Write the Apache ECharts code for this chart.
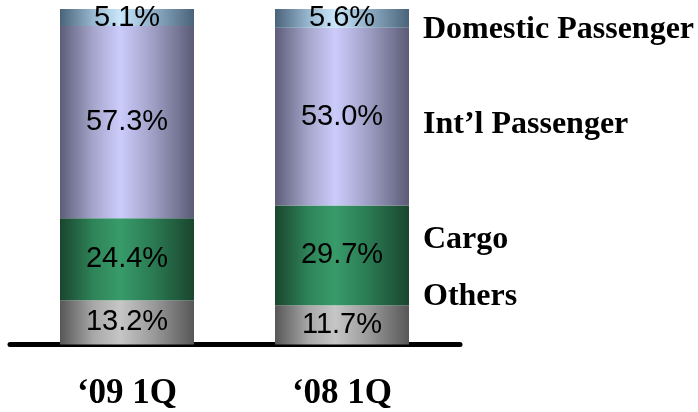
<!DOCTYPE html>
<html>
<head>
<meta charset="utf-8">
<script src="https://cdn.jsdelivr.net/npm/echarts@6/dist/echarts.min.js"></script>
<style>html,body{margin:0;padding:0;background:#fff;}#c{width:698px;height:412px;}</style>
</head>
<body>
<div id="c"></div>
<script>
var categories = ['\u201809 1Q', '\u201808 1Q'];
var seriesNames = ['Others', 'Cargo', 'Int\u2019l Passenger', 'Domestic Passenger'];
var others = [13.2, 11.7];
var cargo = [24.4, 29.7];
var intl = [57.3, 53.0];
var domestic = [5.1, 5.6];
var values = [others, cargo, intl, domestic];

var gradients = [
  ['#575757', '#a8a8a8', '#c6c6c6', '#9a9a9a', '#575757'],
  ['#1a452e', '#2e8458', '#389b6a', '#2a7a52', '#1a452e'],
  ['#5d5d79', '#a6a6cc', '#ccccfc', '#9e9ec4', '#5b5b76'],
  ['#4a6379', '#98b8d0', '#c9e6fa', '#8eaec6', '#4a6379']
];
function grad(c) {
  return new echarts.graphic.LinearGradient(0, 0, 1, 0, [
    {offset: 0, color: c[0]}, {offset: 0.25, color: c[1]}, {offset: 0.45, color: c[2]},
    {offset: 0.7, color: c[3]}, {offset: 1, color: c[4]}
  ]);
}
var labelY = [296.5, 239.5, 125, 29.5];

var chart = echarts.init(document.getElementById('c'));
chart.setOption({
  animation: false,
  grid: [
    {left: 19.5, width: 430, top: 9, bottom: 67.5},
    {left: 10, width: 450, top: 9, bottom: 67.5}
  ],
  xAxis: [
    {type: 'category', gridIndex: 0, data: categories,
      axisLine: {show: false}, axisTick: {show: false},
      axisLabel: {margin: 32, color: '#000', fontFamily: 'Liberation Serif', fontWeight: 'bold', fontSize: 35}},
    {type: 'category', gridIndex: 1, data: categories,
      axisLine: {show: true, lineStyle: {color: '#000', width: 5}}, axisTick: {show: false}, axisLabel: {show: false}}
  ],
  yAxis: [
    {type: 'value', gridIndex: 0, min: 0, max: 100, show: false},
    {type: 'value', gridIndex: 1, min: 0, max: 100, show: false}
  ],
  series: values.map(function (v, i) {
    return {
      name: seriesNames[i], type: 'bar', stack: 'total', xAxisIndex: 0, yAxisIndex: 0,
      barWidth: 134, data: v,
      itemStyle: {color: grad(gradients[i])},
      label: {show: true, position: 'inside', color: '#000', fontFamily: 'Liberation Sans', fontSize: 29,
        formatter: function (p) { return p.value.toFixed(1) + '%'; }}
    };
  }),
  graphic: seriesNames.map(function (n, i) {
    return {type: 'text', x: 423, y: labelY[i], z: 10,
      style: {text: n, fill: '#000', font: 'bold 32px "Liberation Serif"', verticalAlign: 'middle', align: 'left'}};
  })
});
</script>
</body>
</html>
